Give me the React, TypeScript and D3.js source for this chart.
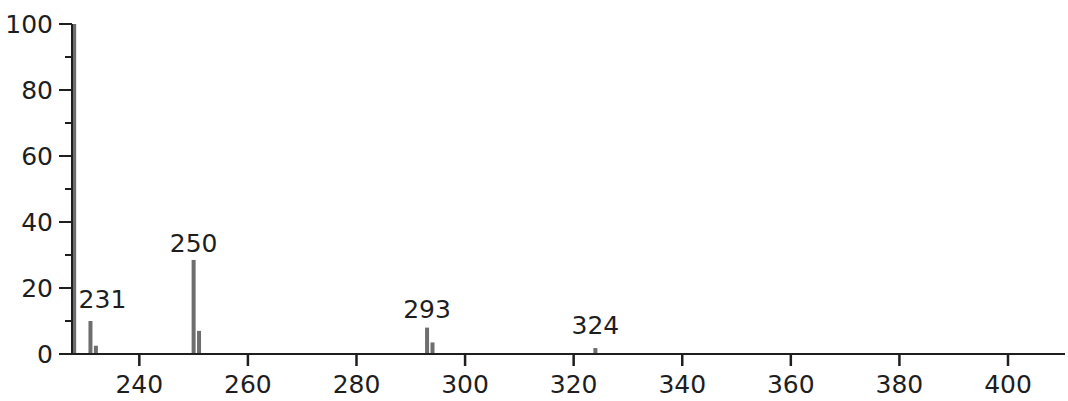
import React from 'react';
import * as d3 from 'd3';

// peaks (m/z, relative intensity %)
const peakMz = [228, 231, 232, 250, 251, 293, 294, 324];
const peakInt = [100, 10, 2.5, 28.5, 7, 8, 3.5, 1.8];

const labelMz = [231, 250, 293, 324];
const labelText = ['231', '250', '293', '324'];
const labelInt = [14, 31, 11, 6];
const labelShift = [12, 0, 0, 0];

const xTicks = [240, 260, 280, 300, 320, 340, 360, 380, 400];
const yTicks = [0, 20, 40, 60, 80, 100];
const yMinor = [10, 30, 50, 70, 90];

const App = () => {
    const width = 1068;
    const height = 401;

    const x = d3.scaleLinear().domain([227.6, 410.5]).range([72, 1065]);
    const y = d3.scaleLinear().domain([0, 100]).range([354, 24]);

    const font = '"DejaVu Sans", sans-serif';
    const ink = '#1e1e1e';
    const fs = 25;

    return (
        <svg width={width} height={height} style={{ position: 'absolute', left: 0, top: 0, background: '#fff' }}>
            {/* peaks */}
            {peakMz.map((m, i) => (
                <rect key={'p' + i}
                    x={x(m) - 2} y={y(peakInt[i])}
                    width={4} height={y(0) - y(peakInt[i])}
                    fill="#6e6e6e" />
            ))}

            {/* axes */}
            <line x1={x.range()[0]} x2={x.range()[1]} y1={y(0)} y2={y(0)} stroke={ink} strokeWidth={2} />
            <line x1={x.range()[0]} x2={x.range()[0]} y1={y(0)} y2={y(100)} stroke={ink} strokeWidth={2} />

            {yTicks.map(t => (
                <g key={'y' + t}>
                    <line x1={x.range()[0] - 13} x2={x.range()[0]} y1={y(t)} y2={y(t)} stroke={ink} strokeWidth={2} />
                    <text x={x.range()[0] - 19} y={y(t)} dy="0.36em" textAnchor="end"
                        fontFamily={font} fontSize={fs} fill={ink}>{t}</text>
                </g>
            ))}
            {yMinor.map(t => (
                <line key={'ym' + t} x1={x.range()[0] - 7} x2={x.range()[0]} y1={y(t)} y2={y(t)} stroke={ink} strokeWidth={2} />
            ))}

            {xTicks.map(t => (
                <g key={'x' + t}>
                    <line x1={x(t)} x2={x(t)} y1={y(0)} y2={y(0) + 12} stroke={ink} strokeWidth={2.5} />
                    <text x={x(t)} y={393} textAnchor="middle"
                        fontFamily={font} fontSize={fs} fill={ink}>{t}</text>
                </g>
            ))}

            {/* peak labels */}
            {labelMz.map((m, i) => (
                <text key={'l' + i} x={x(m) + labelShift[i]} y={y(labelInt[i])} textAnchor="middle"
                    fontFamily={font} fontSize={fs} fill={ink}>{labelText[i]}</text>
            ))}
        </svg>
    );
};

export default App;
